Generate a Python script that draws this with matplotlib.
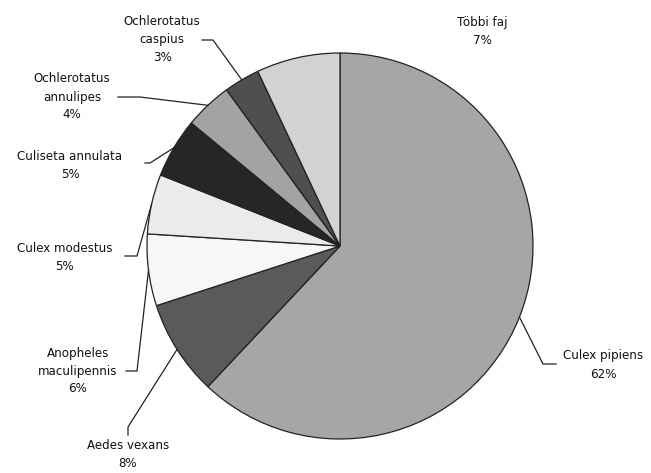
import numpy as np
import matplotlib.pyplot as plt

plt.rcParams['font.family'] = ['DejaVu Sans']

# Fajok és arányok (%)
fajok = ['Culex pipiens', 'Aedes vexans', 'Anopheles\nmaculipennis', 'Culex modestus',
         'Culiseta annulata', 'Ochlerotatus\nannulipes', 'Ochlerotatus\ncaspius', 'Többi faj']
szazalek = [62, 8, 6, 5, 5, 4, 3, 7]
szinek = ['#a6a6a6', '#5a5a5a', '#f7f7f7', '#ebebeb', '#262626', '#a3a3a3', '#4f4f4f', '#d2d2d2']

W, H = 651, 473
fig = plt.figure(figsize=(W / 100, H / 100), dpi=100)
ax = fig.add_axes([0, 0, 1, 1])

cx, cy, r = 340, H - 246, 193
wedges, _ = ax.pie(szazalek, colors=szinek, startangle=90, counterclock=False,
                   center=(cx, cy), radius=r, frame=True,
                   wedgeprops=dict(edgecolor='#222222', linewidth=0.9))
ax.set_xlim(0, W)
ax.set_ylim(0, H)
ax.set_aspect('equal')
ax.axis('off')

# címke helyek (kép koordináták) és vezetővonal töréspontjai
cimke_xy = [(603, 365), (128, 454), (78, 371), (65, 257), (70, 165), (72, 97), (162, 40), (482, 32)]
vonal = [[(556, 364), (543, 364)],
         [(128, 435), (128, 427)],
         [(126, 371), (137, 371)],
         [(125, 256), (137, 256)],
         [(145, 163), (150, 163)],
         [(118, 97), (140, 97)],
         [(202, 40), (213, 40)],
         None]

for w, nev, p, (tx, ty), v in zip(wedges, fajok, szazalek, cimke_xy, vonal):
    ax.text(tx, H - ty, f'{nev}\n{p}%', ha='center', va='center', fontsize=8.6,
            linespacing=1.5, color='#111111')
    if v is None:
        continue
    ang = np.deg2rad((w.theta1 + w.theta2) / 2)
    ex, ey = cx + r * np.cos(ang), cy + r * np.sin(ang)
    xs = [v[0][0], v[1][0], ex]
    ys = [H - v[0][1], H - v[1][1], ey]
    ax.plot(xs, ys, color='#222222', linewidth=0.9)

plt.savefig('out.png', dpi=100)
